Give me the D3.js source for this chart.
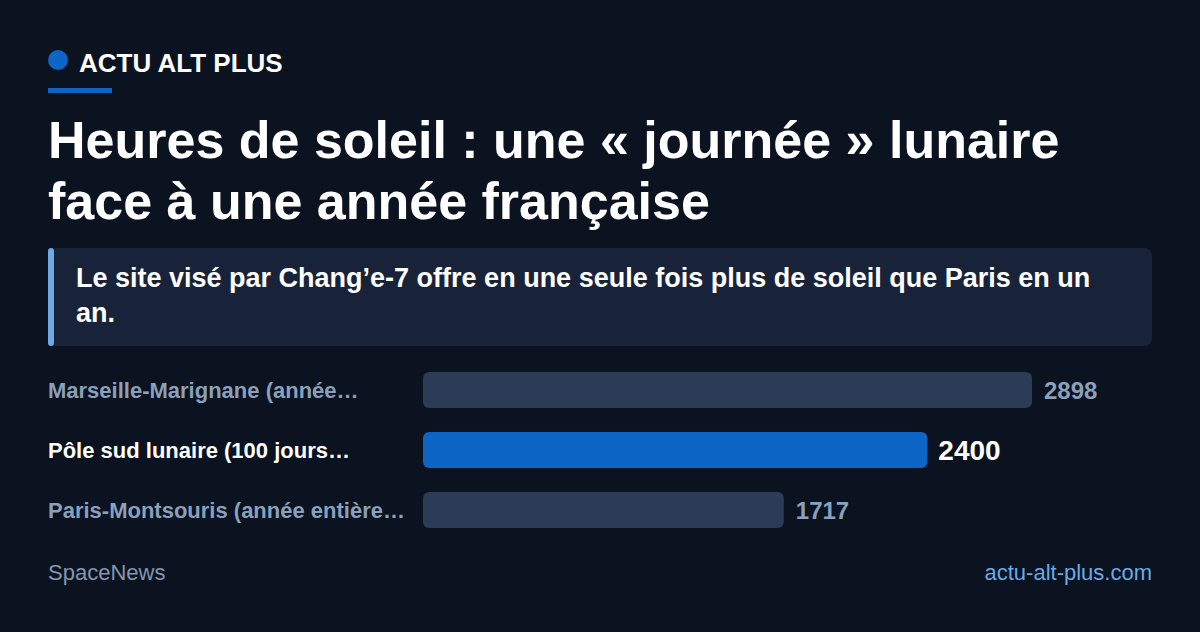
<!DOCTYPE html>
<html><head><meta charset="utf-8">
<script src="https://cdn.jsdelivr.net/npm/d3@7"></script>
<style>
html,body{margin:0;padding:0;background:#0b1220;}
svg{display:block;font-family:"Liberation Sans",Arial,Helvetica,sans-serif;}
</style></head>
<body><svg id="c" width="1200" height="632"></svg>
<script>
const categories = ["Marseille-Marignane (année…", "Pôle sud lunaire (100 jours…", "Paris-Montsouris (année entière…"];
const values = [2898, 2400, 1717];
const highlight = [false, true, false];
const titleLines = ["Heures de soleil : une « journée » lunaire", "face à une année française"];
const subtitleLines = ["Le site visé par Chang’e-7 offre en une seule fois plus de soleil que Paris en un", "an."];
const brand = "ACTU ALT PLUS";
const source = "SpaceNews";
const site = "actu-alt-plus.com";

const svg = d3.select("#c");
svg.append("rect").attr("width",1200).attr("height",632).attr("fill","#0b1220");

// header
svg.append("circle").attr("cx",58).attr("cy",60).attr("r",10).attr("fill","#0d66c6");
svg.append("text").attr("x",79).attr("y",72).attr("fill","#ffffff").attr("font-size",26).attr("font-weight",700).text(brand);
svg.append("rect").attr("x",48).attr("y",88).attr("width",64).attr("height",5).attr("fill","#0d66c6");

// title
svg.append("g").selectAll("text").data(titleLines).join("text")
  .attr("x",48).attr("y",(d,i)=>158+i*61).attr("fill","#ffffff")
  .attr("font-size",52).attr("font-weight",700).text(d=>d);

// subtitle box
svg.append("rect").attr("x",48).attr("y",248).attr("width",1104).attr("height",98).attr("rx",8).attr("fill","#18233a");
svg.append("rect").attr("x",48).attr("y",248).attr("width",6).attr("height",98).attr("rx",3).attr("fill","#6fa9e8");
svg.append("g").selectAll("text").data(subtitleLines).join("text")
  .attr("x",76).attr("y",(d,i)=>287+i*35).attr("fill","#ffffff")
  .attr("font-size",27).attr("font-weight",700).text(d=>d);

// bars
const x = d3.scaleLinear().domain([0, d3.max(values)]).range([423, 1032]);
const yb = d3.scaleBand().domain(categories).range([372, 528]).paddingInner(24/60).paddingOuter(0);
const rows = categories.map((c,i)=>({c, v:values[i], h:highlight[i]}));
const g = svg.append("g");
g.selectAll("rect.bar").data(rows).join("rect").attr("class","bar")
  .attr("x",x(0)).attr("y",d=>yb(d.c)).attr("width",d=>x(d.v)-x(0)).attr("height",yb.bandwidth())
  .attr("rx",6).attr("fill",d=>d.h?"#0d66c6":"#2d3c56");
g.selectAll("text.lab").data(rows).join("text").attr("class","lab")
  .attr("x",48).attr("y",d=>yb(d.c)+yb.bandwidth()/2+8).attr("font-size",22).attr("font-weight",700)
  .attr("fill",d=>d.h?"#ffffff":"#8aa0bb").text(d=>d.c);
g.selectAll("text.val").data(rows).join("text").attr("class","val")
  .attr("x",d=>x(d.v)+(d.h?11:12)).attr("y",d=>yb(d.c)+yb.bandwidth()/2+(d.h?10:9))
  .attr("font-size",d=>d.h?28:24).attr("font-weight",700)
  .attr("fill",d=>d.h?"#ffffff":"#8aa0bb").text(d=>d.v);

// footer
svg.append("text").attr("x",48).attr("y",580).attr("font-size",22).attr("fill","#8496ae").text(source);
svg.append("text").attr("x",1152).attr("y",580).attr("font-size",22).attr("text-anchor","end").attr("fill","#6aaae8").text(site);
</script></body></html>
